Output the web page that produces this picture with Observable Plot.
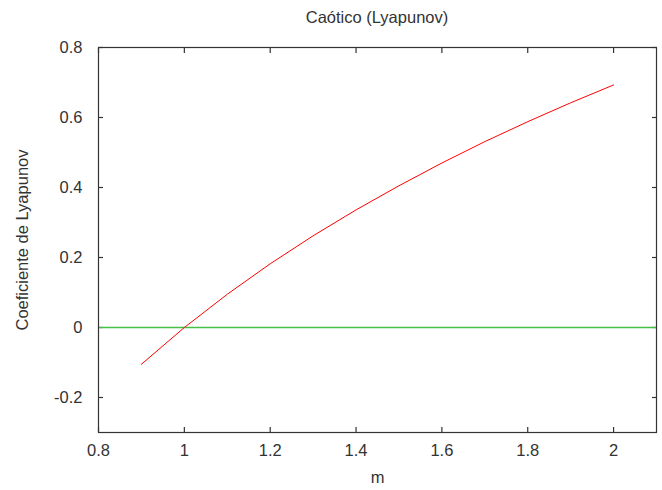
<!DOCTYPE html>
<html>
<head>
<meta charset="utf-8">
<script src="https://cdn.jsdelivr.net/npm/d3@7"></script>
<script src="https://cdn.jsdelivr.net/npm/@observablehq/plot@0.6"></script>
<style>
  html, body { margin: 0; padding: 0; background: #fff; }
  #chart { position: relative; width: 662px; height: 490px; }
  .title { position: absolute; top: 7px; left: 98px; width: 558px; text-align: center; line-height: 20px;
           font-size: 16.5px; font-family: "Liberation Sans", Arial, sans-serif; color: #333; }
</style>
</head>
<body>
<div id="chart"><div class="title">Caótico (Lyapunov)</div></div>
<script>
const mValues = [0.9, 1.0, 1.1, 1.2, 1.3, 1.4, 1.5, 1.6, 1.7, 1.8, 1.9, 2.0];
const lyapunov = [-0.105, 0.0, 0.095, 0.182, 0.262, 0.336, 0.405, 0.470, 0.531, 0.588, 0.642, 0.693];
const xTicks = [0.8, 1, 1.2, 1.4, 1.6, 1.8, 2];
const yTicks = [-0.2, 0, 0.2, 0.4, 0.6, 0.8];
const xDomain = [0.8, 2.1];
const yDomain = [-0.3, 0.8];

const data = mValues.map((m, i) => ({m, l: lyapunov[i]}));
const fmt = d => String(+d.toFixed(1));
const blank = () => "";
const FS = 16.5;

const plot = Plot.plot({
  width: 662,
  height: 490,
  marginLeft: 98,
  marginRight: 6,
  marginTop: 47,
  marginBottom: 58,
  style: {fontFamily: "'Liberation Sans', Arial, sans-serif", fontSize: FS + "px", color: "#333", background: "#fff"},
  x: {domain: xDomain, axis: null},
  y: {domain: yDomain, axis: null},
  marks: [
    Plot.axisX(xTicks, {anchor: "bottom", tickSize: 0, tickPadding: 12, tickFormat: fmt, label: null, fontSize: FS}),
    Plot.axisX(xTicks, {anchor: "bottom", tickSize: 5, dy: -5, tickFormat: blank, label: null, stroke: "#333", strokeWidth: 1.2}),
    Plot.axisX(xTicks, {anchor: "top", tickSize: 5, dy: 5, tickFormat: blank, label: null, stroke: "#333", strokeWidth: 1.2}),
    Plot.axisY(yTicks, {anchor: "left", tickSize: 0, tickPadding: 16, tickFormat: fmt, label: null, fontSize: FS}),
    Plot.axisY(yTicks, {anchor: "left", tickSize: 5, dx: 5, tickFormat: blank, label: null, stroke: "#333", strokeWidth: 1.2}),
    Plot.axisY(yTicks, {anchor: "right", tickSize: 5, dx: -5, tickFormat: blank, label: null, stroke: "#333", strokeWidth: 1.2}),
    Plot.ruleY([0], {stroke: "#44c044", strokeWidth: 1.5}),
    Plot.line(data, {x: "m", y: "l", stroke: "#ff0000", strokeWidth: 1}),
    Plot.frame({stroke: "#333", strokeWidth: 1.2}),
    Plot.text(["m"], {frameAnchor: "bottom", dy: 50, fontSize: FS, fill: "#333"}),
    Plot.text(["Coeficiente de Lyapunov"], {frameAnchor: "left", textAnchor: "middle", dx: -76, rotate: -90, fontSize: FS, fill: "#333"})
  ]
});
document.getElementById("chart").appendChild(plot);
</script>
</body>
</html>
